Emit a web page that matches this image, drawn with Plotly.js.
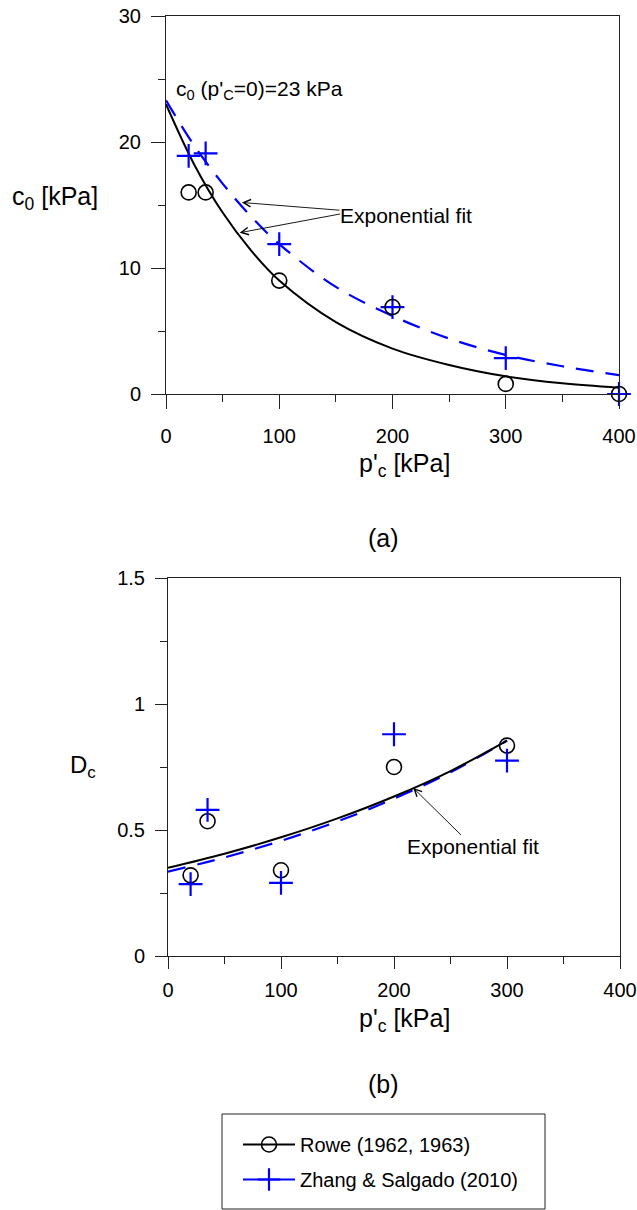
<!DOCTYPE html>
<html>
<head>
<meta charset="utf-8">
<script src="https://cdn.plot.ly/plotly-3.0.1.min.js"></script>
<style>html,body{margin:0;padding:0;background:#fff;}#chart{width:637px;height:1210px;}</style>
</head>
<body>
<div id="chart"></div>
<script>
// ---------- data ----------
// panel (a): c0 vs p'c
const pcA = [20, 35, 100, 200, 300, 400];
const roweC0 = [16, 16, 9, 6.9, 0.8, 0];
const zhangC0 = [18.9, 19.1, 11.9, 6.9, 2.85, 0];
const fitXA = [0, 25, 50, 75, 100, 150, 200, 250, 300, 350, 400];
const roweFitA = [23.0, 18.2, 14.4, 11.4, 9.0, 5.7, 3.6, 2.3, 1.4, 0.85, 0.5];
const zhangFitA = [23.3, 19.7, 16.7, 14.1, 11.9, 8.5, 6.2, 4.4, 3.1, 2.2, 1.5];
// panel (b): Dc vs p'c
const pcB = [20, 35, 100, 200, 300];
const roweDc = [0.32, 0.535, 0.34, 0.75, 0.835];
const zhangDc = [0.285, 0.58, 0.29, 0.88, 0.775];
const fitXB = [0, 50, 100, 150, 200, 250, 300];
const roweFitB = [0.35, 0.406, 0.471, 0.546, 0.633, 0.734, 0.855];
const zhangFitB = [0.335, 0.391, 0.457, 0.534, 0.624, 0.729, 0.855];
// labels
const seriesNames = ['Rowe (1962, 1963)', 'Zhang & Salgado (2010)'];
const xTicksA = [0, 100, 200, 300, 400];
const yTicksA = [0, 10, 20, 30];
const xTicksB = [0, 100, 200, 300, 400];
const yTicksB = [0, 0.5, 1, 1.5];
const yTickTextB = ['0', '0.5', '1', '1.5'];

// ---------- layout helpers ----------
const W = 637, H = 1210;
const FONT = 'Liberation Sans, Arial, sans-serif';
const px = v => v / W;
const py = v => 1 - v / H;
const BLUE = '#0000ff';
const AX = '#222';

const circleMarker = {symbol: 'circle-open', size: 15, color: '#000', line: {width: 1.6, color: '#000'}};
const plusMarker = {symbol: 'cross-thin-open', size: 17, color: BLUE, line: {width: 2.2, color: BLUE}};

const traces = [
  // panel a
  {x: fitXA, y: roweFitA, xaxis: 'x', yaxis: 'y', mode: 'lines', line: {color: '#000', width: 2, shape: 'spline'}, showlegend: false, hoverinfo: 'skip'},
  {x: fitXA, y: zhangFitA, xaxis: 'x', yaxis: 'y', mode: 'lines', line: {color: BLUE, width: 2.2, dash: '18px,12px', shape: 'spline'}, showlegend: false, hoverinfo: 'skip'},
  {x: pcA, y: zhangC0, xaxis: 'x', yaxis: 'y', mode: 'markers', marker: plusMarker, cliponaxis: false, showlegend: false},
  {x: pcA, y: roweC0, xaxis: 'x', yaxis: 'y', mode: 'markers', marker: circleMarker, cliponaxis: false, showlegend: false},
  // panel b
  {x: fitXB, y: zhangFitB, xaxis: 'x2', yaxis: 'y2', mode: 'lines', line: {color: BLUE, width: 2.2, dash: '18px,12px', shape: 'spline'}, showlegend: false, hoverinfo: 'skip'},
  {x: fitXB, y: roweFitB, xaxis: 'x2', yaxis: 'y2', mode: 'lines', line: {color: '#000', width: 2, shape: 'spline'}, showlegend: false, hoverinfo: 'skip'},
  {x: pcB, y: roweDc, xaxis: 'x2', yaxis: 'y2', mode: 'markers', marker: circleMarker, cliponaxis: false, showlegend: false},
  {x: pcB, y: zhangDc, xaxis: 'x2', yaxis: 'y2', mode: 'markers', marker: plusMarker, cliponaxis: false, showlegend: false},
  // legend entries
  {x: [null], y: [null], xaxis: 'x2', yaxis: 'y2', mode: 'lines+markers', name: seriesNames[0], legendgroup: 'g1',
   line: {color: '#000', width: 2}, marker: circleMarker},
  {x: [null], y: [null], xaxis: 'x2', yaxis: 'y2', mode: 'lines+markers', name: seriesNames[1], legendgroup: 'g2',
   line: {color: BLUE, width: 2}, marker: plusMarker}
];

const tickFont = {family: FONT, size: 20, color: '#000'};
function xAx(dom, anchor, vals, majorLen, minorLen, standoff) {
  return {domain: dom, anchor: anchor, range: [0, 400], tickvals: vals, ticktext: vals.map(String),
    ticks: 'outside', ticklen: majorLen, tickwidth: 1, tickcolor: AX,
    minor: {dtick: 50, ticks: 'outside', ticklen: minorLen, tickwidth: 1, tickcolor: AX, showgrid: false},
    showline: true, linecolor: AX, linewidth: 1, mirror: true, showgrid: false, zeroline: false,
    tickfont: tickFont, ticklabelstandoff: standoff, fixedrange: true};
}

const layout = {
  width: W, height: H,
  margin: {l: 0, r: 0, t: 0, b: 0},
  paper_bgcolor: '#fff', plot_bgcolor: '#fff',
  font: {family: FONT, color: '#000'},
  xaxis: xAx([166 / W, 619 / W], 'y', xTicksA, 14, 7, 10),
  yaxis: {domain: [py(394), py(16)], anchor: 'x', range: [0, 30], tickvals: yTicksA, ticktext: yTicksA.map(String),
    ticks: 'outside', ticklen: 14, tickwidth: 1, tickcolor: AX,
    minor: {dtick: 5, ticks: 'outside', ticklen: 7, tickwidth: 1, tickcolor: AX, showgrid: false},
    showline: true, linecolor: AX, linewidth: 1, mirror: true, showgrid: false, zeroline: false,
    tickfont: tickFont, ticklabelstandoff: 6, fixedrange: true},
  xaxis2: xAx([168 / W, 620 / W], 'y2', xTicksB, 12, 7, 4),
  yaxis2: {domain: [py(956), py(578)], anchor: 'x2', range: [0, 1.5], tickvals: yTicksB, ticktext: yTickTextB,
    ticks: 'outside', ticklen: 12, tickwidth: 1, tickcolor: AX,
    minor: {dtick: 0.25, ticks: 'outside', ticklen: 7, tickwidth: 1, tickcolor: AX, showgrid: false},
    showline: true, linecolor: AX, linewidth: 1, mirror: true, showgrid: false, zeroline: false,
    tickfont: tickFont, ticklabelstandoff: 6, fixedrange: true},
  yaxis3: {overlaying: 'y2', anchor: 'x2', side: 'left', range: [0, 1.5], tickvals: yTicksB,
    ticks: 'inside', ticklen: 12, tickwidth: 1, tickcolor: AX, showticklabels: false,
    minor: {dtick: 0.25, ticks: 'inside', ticklen: 7, tickwidth: 1, tickcolor: AX, showgrid: false},
    showline: false, showgrid: false, zeroline: false, fixedrange: true},
  showlegend: true,
  legend: {x: px(238), y: py(1125), xanchor: 'left', yanchor: 'top', bgcolor: 'rgba(0,0,0,0)', borderwidth: 0,
    font: {family: FONT, size: 20, color: '#000'}, itemwidth: 52, tracegroupgap: 6, traceorder: 'grouped'},
  shapes: [
    {type: 'rect', xref: 'paper', yref: 'paper', x0: px(222), x1: px(545), y0: py(1114), y1: py(1209),
     line: {color: AX, width: 1}, fillcolor: 'rgba(0,0,0,0)'}
  ],
  annotations: [
    // axis titles
    {xref: 'paper', yref: 'paper', x: px(55), y: py(198), text: 'c<sub>0</sub> [kPa]', showarrow: false,
     font: {family: FONT, size: 25}, xanchor: 'center', yanchor: 'middle'},
    {xref: 'paper', yref: 'paper', x: px(404), y: py(465), text: "p'<sub>c</sub> [kPa]", showarrow: false,
     font: {family: FONT, size: 25}, xanchor: 'center', yanchor: 'middle'},
    {xref: 'paper', yref: 'paper', x: px(83), y: py(766), text: 'D<sub>c</sub>', showarrow: false,
     font: {family: FONT, size: 24}, xanchor: 'center', yanchor: 'middle'},
    {xref: 'paper', yref: 'paper', x: px(404), y: py(1020), text: "p'<sub>c</sub> [kPa]", showarrow: false,
     font: {family: FONT, size: 25}, xanchor: 'center', yanchor: 'middle'},
    // panel labels
    {xref: 'paper', yref: 'paper', x: px(383), y: py(538), text: '(a)', showarrow: false,
     font: {family: FONT, size: 25}, xanchor: 'center', yanchor: 'middle'},
    {xref: 'paper', yref: 'paper', x: px(383), y: py(1084), text: '(b)', showarrow: false,
     font: {family: FONT, size: 25}, xanchor: 'center', yanchor: 'middle'},
    // panel a notes
    {xref: 'paper', yref: 'paper', x: px(174), y: py(90), text: "c<sub>0</sub> (p'<sub>C</sub>=0)=23 kPa", showarrow: false,
     font: {family: FONT, size: 21}, xanchor: 'left', yanchor: 'middle'},
    {xref: 'x', yref: 'y', x: 67, y: 15.2, text: 'Exponential fit', showarrow: true, ax: 164, ay: 13,
     xanchor: 'center', yanchor: 'middle', font: {family: FONT, size: 21}, borderpad: 0,
     arrowhead: 5, arrowsize: 1.6, arrowwidth: 0.9, arrowcolor: '#000', standoff: 0},
    {xref: 'x', yref: 'y', x: 65, y: 12.8, text: '', showarrow: true, ax: 102, ay: -19,
     arrowhead: 5, arrowsize: 1.6, arrowwidth: 0.9, arrowcolor: '#000', standoff: 0},
    // panel b note
    {xref: 'x2', yref: 'y2', x: 217, y: 0.667, text: 'Exponential fit', showarrow: true, ax: 60, ay: 59,
     xanchor: 'center', yanchor: 'middle', font: {family: FONT, size: 21}, borderpad: 0,
     arrowhead: 5, arrowsize: 1.6, arrowwidth: 0.9, arrowcolor: '#000', standoff: 0}
  ]
};

Plotly.newPlot('chart', traces, layout, {staticPlot: true, displayModeBar: false});
</script>
</body>
</html>
